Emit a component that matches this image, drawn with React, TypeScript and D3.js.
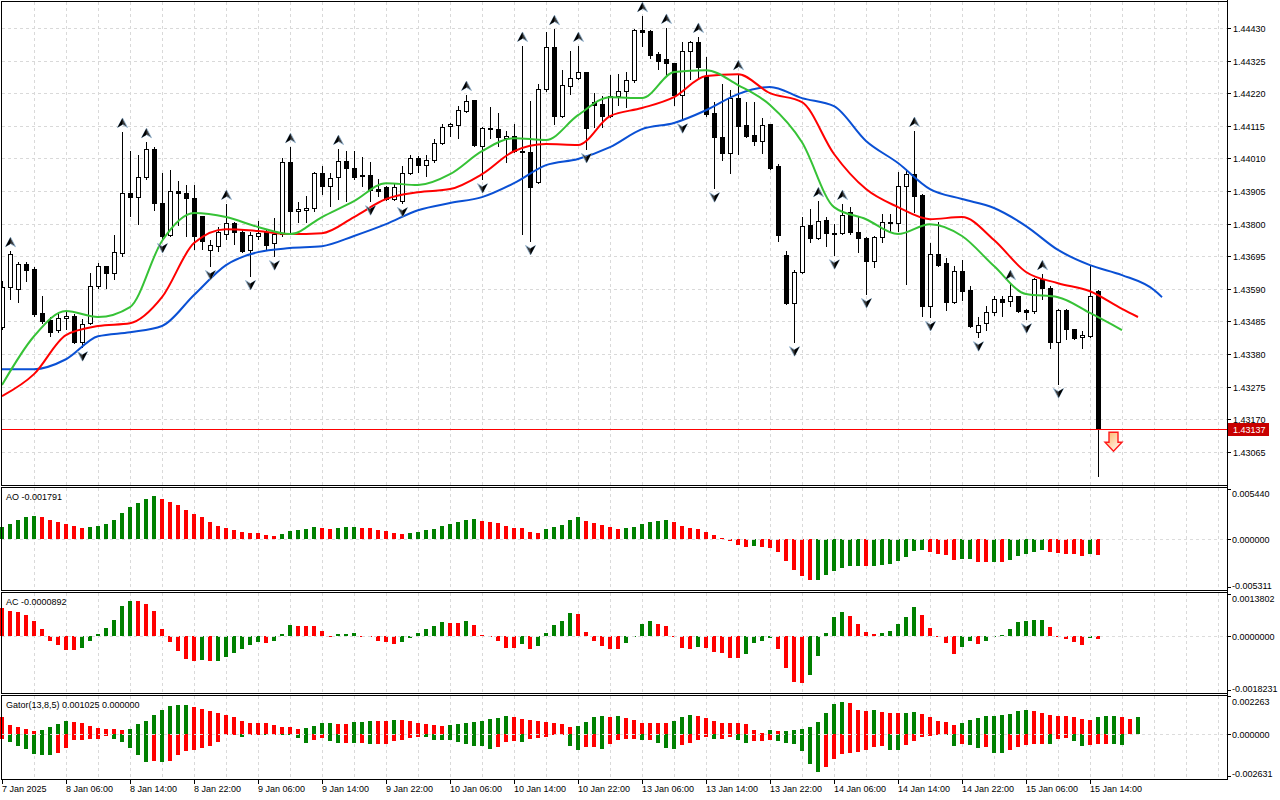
import { useEffect, useRef } from "react";
import * as d3 from "d3";

const W = 1280;
const H = 800;
const AXIS_X = 1227;
const FONT = "'Liberation Sans', Arial, sans-serif";
const GRID = "#d9d9d9";
const BAR_GREEN = "#008000";
const BAR_RED = "#ff0000";

// x axis, one label every 8 H1 bars starting at bar 0
const TIME_LABELS = [
  "7 Jan 2025", "8 Jan 06:00", "8 Jan 14:00", "8 Jan 22:00", "9 Jan 06:00", "9 Jan 14:00",
  "9 Jan 22:00", "10 Jan 06:00", "10 Jan 14:00", "10 Jan 22:00", "13 Jan 06:00", "13 Jan 14:00",
  "13 Jan 22:00", "14 Jan 06:00", "14 Jan 14:00", "14 Jan 22:00", "15 Jan 06:00", "15 Jan 14:00",
];

const PRICE_TICKS = [
  1.4443, 1.44325, 1.4422, 1.44115, 1.4401, 1.43905, 1.438, 1.43695, 1.4359, 1.43485,
  1.4338, 1.43275, 1.4317, 1.43065,
];

const OPEN = [
  1.43467, 1.43595, 1.43589, 1.43669, 1.43653, 1.43512, 1.43489, 1.43457, 1.43495, 1.43502,
  1.43418, 1.43479, 1.43599, 1.43663, 1.4364, 1.43705, 1.43898, 1.43885, 1.4395, 1.4404,
  1.43866, 1.43763, 1.43905, 1.43898, 1.43882, 1.43824, 1.43715, 1.43727, 1.43766, 1.43801,
  1.43772, 1.43715, 1.4376, 1.43772, 1.43737, 1.43766, 1.43998, 1.4384, 1.43843, 1.4385,
  1.43963, 1.43921, 1.4395, 1.44001, 1.43979, 1.43956, 1.43956, 1.43911, 1.43917, 1.43879,
  1.43872, 1.43963, 1.44011, 1.43988, 1.44004, 1.44059, 1.44114, 1.44117, 1.44162, 1.44198,
  1.4405, 1.44107, 1.44104, 1.44075, 1.44082, 1.44033, 1.4403, 1.43934, 1.44233, 1.44368,
  1.44146, 1.44243, 1.44269, 1.44288, 1.44191, 1.44185, 1.44146, 1.44211, 1.44227, 1.44262,
  1.44423, 1.4442, 1.44346, 1.4433, 1.44317, 1.44214, 1.44356, 1.44385, 1.44275, 1.44156,
  1.44078, 1.44027, 1.44204, 1.44117, 1.44085, 1.44066, 1.4412, 1.43985, 1.43698, 1.43544,
  1.43644, 1.43795, 1.43753, 1.43811, 1.43769, 1.43769, 1.43837, 1.43772, 1.43753, 1.43679,
  1.43756, 1.43805, 1.43801, 1.43921, 1.43959, 1.43892, 1.43534, 1.43702, 1.43673, 1.43547,
  1.43647, 1.43586, 1.4345, 1.43479, 1.43515, 1.43557, 1.4355, 1.43566, 1.43521, 1.43518,
  1.43621, 1.43592, 1.43418, 1.43521, 1.4346, 1.43434, 1.43437, 1.43582,
];
const HIGH = [
  1.43615, 1.43711, 1.43676, 1.43676, 1.4366, 1.43566, 1.43499, 1.43515, 1.43515, 1.43508,
  1.43492, 1.4364, 1.43673, 1.43663, 1.43763, 1.44095, 1.44033, 1.4402, 1.44062, 1.44046,
  1.43963, 1.43972, 1.43937, 1.43924, 1.43924, 1.43824, 1.43747, 1.43789, 1.43863, 1.43805,
  1.43779, 1.43772, 1.43808, 1.43779, 1.43818, 1.44011, 1.44046, 1.43869, 1.43888, 1.43966,
  1.43985, 1.43963, 1.4404, 1.44033, 1.44033, 1.44014, 1.43998, 1.43943, 1.43921, 1.43927,
  1.43985, 1.4402, 1.44017, 1.4402, 1.44072, 1.4412, 1.44124, 1.44178, 1.44214, 1.44198,
  1.44111, 1.44175, 1.44156, 1.44098, 1.4412, 1.44372, 1.44194, 1.44249, 1.44417, 1.44426,
  1.44294, 1.44356, 1.44372, 1.44288, 1.4422, 1.44211, 1.44278, 1.44281, 1.44288, 1.44426,
  1.44468, 1.44423, 1.44352, 1.4443, 1.44317, 1.44385, 1.44388, 1.44401, 1.44336, 1.44191,
  1.44249, 1.4423, 1.44281, 1.44191, 1.44191, 1.4414, 1.4412, 1.43992, 1.43711, 1.4365,
  1.43821, 1.43847, 1.43872, 1.43821, 1.43798, 1.43863, 1.43853, 1.43821, 1.43756, 1.4376,
  1.4383, 1.4383, 1.43966, 1.43975, 1.44098, 1.43895, 1.43737, 1.43805, 1.43689, 1.43663,
  1.43682, 1.43599, 1.43499, 1.43534, 1.43566, 1.43566, 1.43605, 1.43566, 1.43525, 1.43624,
  1.43637, 1.43599, 1.43525, 1.43525, 1.4346, 1.43454, 1.43666, 1.43586,
];
const LOW = [
  1.4346, 1.43557, 1.43547, 1.43615, 1.43502, 1.43479, 1.43437, 1.4345, 1.4346, 1.43415,
  1.43402, 1.43476, 1.43592, 1.43592, 1.43621, 1.43695, 1.43824, 1.43798, 1.43943, 1.43843,
  1.4375, 1.4376, 1.43795, 1.4376, 1.43718, 1.43718, 1.43663, 1.43711, 1.4375, 1.43734,
  1.43708, 1.43631, 1.4375, 1.43718, 1.43695, 1.4376, 1.43772, 1.43805, 1.43805, 1.4384,
  1.43895, 1.43856, 1.43879, 1.43872, 1.43943, 1.43921, 1.43872, 1.43888, 1.43876, 1.43876,
  1.43866, 1.43959, 1.43966, 1.43953, 1.43998, 1.44056, 1.44082, 1.44075, 1.44159, 1.4405,
  1.43943, 1.44075, 1.4405, 1.43998, 1.4403, 1.43766, 1.43744, 1.4393, 1.44227, 1.4412,
  1.44143, 1.44217, 1.44265, 1.4404, 1.44111, 1.44111, 1.44143, 1.44182, 1.44175, 1.44256,
  1.44372, 1.44333, 1.44298, 1.44278, 1.44182, 1.44136, 1.44265, 1.44265, 1.44146, 1.43914,
  1.44004, 1.43963, 1.44024, 1.44078, 1.44053, 1.44027, 1.43975, 1.43744, 1.43541, 1.43418,
  1.4364, 1.4374, 1.4375, 1.43727, 1.43698, 1.43766, 1.43766, 1.43708, 1.43573, 1.4366,
  1.4374, 1.43772, 1.43776, 1.43605, 1.43837, 1.43502, 1.43499, 1.43663, 1.43521, 1.43544,
  1.43553, 1.43467, 1.43434, 1.43457, 1.43505, 1.43502, 1.43534, 1.43515, 1.43492, 1.43512,
  1.43557, 1.43399, 1.43283, 1.43428, 1.43428, 1.43399, 1.43434, 1.42987,
];
const CLOSE = [
  1.43595, 1.43702, 1.43669, 1.4365, 1.43508, 1.43486, 1.4345, 1.43495, 1.43502, 1.43418,
  1.43476, 1.43599, 1.43663, 1.4364, 1.43708, 1.43898, 1.43885, 1.4395, 1.4404, 1.43866,
  1.4376, 1.43905, 1.43898, 1.43882, 1.4376, 1.43744, 1.43731, 1.43772, 1.43801, 1.43772,
  1.43711, 1.43763, 1.43769, 1.43731, 1.43766, 1.43998, 1.4384, 1.43847, 1.4385, 1.43963,
  1.43921, 1.43946, 1.44001, 1.43979, 1.4395, 1.43953, 1.43908, 1.43905, 1.43879, 1.43917,
  1.43963, 1.44011, 1.43988, 1.44004, 1.44059, 1.44111, 1.4412, 1.44165, 1.44194, 1.44053,
  1.44107, 1.44104, 1.44078, 1.44082, 1.44033, 1.4403, 1.43917, 1.44233, 1.44368, 1.44146,
  1.44246, 1.44269, 1.44288, 1.44107, 1.44182, 1.44146, 1.44211, 1.44227, 1.44262, 1.44423,
  1.44417, 1.44343, 1.44323, 1.44317, 1.44214, 1.44356, 1.44385, 1.44304, 1.44153, 1.44078,
  1.44027, 1.44204, 1.44114, 1.44082, 1.44066, 1.44117, 1.43979, 1.43763, 1.43544, 1.43644,
  1.43792, 1.43753, 1.43808, 1.43769, 1.43766, 1.43827, 1.43772, 1.43753, 1.43679, 1.43756,
  1.43805, 1.43801, 1.43921, 1.43959, 1.43888, 1.43534, 1.43702, 1.43666, 1.43547, 1.43647,
  1.43582, 1.4347, 1.43473, 1.43515, 1.43557, 1.43547, 1.43566, 1.43518, 1.43515, 1.43621,
  1.43592, 1.43418, 1.43521, 1.4346, 1.43431, 1.43441, 1.43566, 1.43137,
];

// bar indices carrying a fractal arrow
const FRACTAL_UP = [1, 15, 18, 28, 36, 42, 58, 65, 69, 72, 80, 83, 87, 92, 102, 105, 114, 126, 130];
const FRACTAL_DOWN = [10, 20, 26, 31, 34, 46, 50, 60, 66, 73, 85, 89, 99, 104, 108, 116, 122, 128, 132];

// Alligator lines, one value every 4 bars (shifted lines run past the last candle)
const LIPS = [
  1.4328, 1.43437, 1.43518, 1.43499, 1.43531, 1.43744, 1.43834, 1.43821, 1.43789, 1.43766,
  1.43821, 1.43872, 1.4393, 1.43924, 1.43959, 1.44033, 1.44075, 1.44069, 1.44149, 1.44207,
  1.44204, 1.44288, 1.44294, 1.44246, 1.44182, 1.44062, 1.43853, 1.43814, 1.43766, 1.43798,
  1.4376, 1.43663, 1.43573, 1.43563, 1.43512, 1.43457,
];
const TEETH = [
  1.43244, 1.43315, 1.43441, 1.4347, 1.43479, 1.43563, 1.43737, 1.43782, 1.43776, 1.43766,
  1.43769, 1.43821, 1.43879, 1.43901, 1.43911, 1.43959, 1.44033, 1.44056, 1.44053, 1.44146,
  1.44172, 1.44207, 1.44275, 1.44281, 1.4422, 1.44191, 1.44024, 1.43911, 1.43853, 1.43814,
  1.43821, 1.43747, 1.43644, 1.43608, 1.43582, 1.43525, 1.43499,
];
const JAW = [
  1.43331, 1.43331, 1.43363, 1.43437, 1.4345, 1.4347, 1.4357, 1.43666, 1.43708, 1.43721,
  1.43727, 1.4376, 1.43798, 1.43843, 1.43866, 1.43885, 1.4393, 1.43988, 1.44008, 1.44046,
  1.44104, 1.44124, 1.44165, 1.44217, 1.4424, 1.44204, 1.44178, 1.44066, 1.43995, 1.43911,
  1.43879, 1.4385, 1.43792, 1.43715, 1.43666, 1.43634, 1.43586, 1.43563,
];
const LIPS_END = 140;
const TEETH_END = 142;
const JAW_END = 145;

const AO = [
  0.00127, 0.00163, 0.0021, 0.00236, 0.0025, 0.00239, 0.0021, 0.00185, 0.00163, 0.00141,
  0.00119, 0.0013, 0.00145, 0.00163, 0.00206, 0.00286, 0.00348, 0.00391, 0.00434, 0.00467,
  0.00434, 0.00405, 0.00369, 0.00315, 0.00275, 0.00239, 0.00185, 0.00141, 0.00119, 0.00098,
  0.00076, 0.00068, 0.00065, 0.00043, 0.00033, 0.00054, 0.00087, 0.00101, 0.00105, 0.0013,
  0.00123, 0.00109, 0.00119, 0.00128, 0.0013, 0.00119, 0.00116, 0.00101, 0.0009, 0.00068,
  0.00058, 0.00068, 0.0008, 0.00101, 0.00112, 0.00145, 0.00166, 0.00188, 0.0021, 0.00221,
  0.00196, 0.00185, 0.00174, 0.00141, 0.00123, 0.00119, 0.00076, 0.00065, 0.00112, 0.0013,
  0.00152, 0.00206, 0.00239, 0.00199, 0.00174, 0.00155, 0.00134, 0.00112, 0.00113, 0.00134,
  0.00163, 0.00188, 0.00199, 0.0021, 0.00188, 0.00145, 0.00123, 0.00112, 0.00076, 0.00043,
  0.00014, -0.00022, -0.00072, -0.00094, -0.00083, -0.00094, -0.00096, -0.00148, -0.00246, -0.00344,
  -0.00409, -0.00452, -0.0045, -0.00398, -0.00355, -0.00319, -0.003, -0.00298, -0.00301, -0.00297,
  -0.0029, -0.00279, -0.00246, -0.00203, -0.00138, -0.00127, -0.00148, -0.00163, -0.00181, -0.00235,
  -0.00225, -0.00224, -0.00257, -0.00258, -0.00256, -0.00257, -0.00235, -0.00192, -0.0017, -0.00148,
  -0.00127, -0.00148, -0.00159, -0.0016, -0.0017, -0.00192, -0.0017, -0.001791,
];
const AO_COLORS =
  "gggggrrrrr rggggggggg rrrrrrrrrr rrrrrggggg rrgggrrrrr rggggggggg rrrrrrrrgg " +
  "gggrrrrrgg ggggrrrrrr rrrrgrrrrr rrggggggrg ggggggrrrr ggrrgrgggg grrrrrgr";

const AC = [
  0.000914, 0.000825, 0.000792, 0.000693, 0.000495, 0.000231, -0.000155, -0.00032, -0.000462, -0.000465,
  -0.000418, -0.000155, 0.000066, 0.000264, 0.000528, 0.00099, 0.001155, 0.00115, 0.001056, 0.000825,
  0.000231, -0.000221, -0.000517, -0.000781, -0.000847, -0.000814, -0.00085, -0.000845, -0.000715, -0.000583,
  -0.000451, -0.00032, -0.000221, -0.000253, -0.000187, 0.000066, 0.000363, 0.00033, 0.000328, 0.000326,
  0.000165, -0.000033, 0.000066, 0.000068, 0.000099, -0.000033, -0.000055, -0.000155, -0.000221, -0.000286,
  -0.000221, -0.000088, 0.000099, 0.000231, 0.00033, 0.000462, 0.000429, 0.000427, 0.000495, 0.000363,
  0.00002, -0.000044, -0.000187, -0.000418, -0.00042, -0.000286, -0.000451, -0.000352, 0.000099, 0.000363,
  0.000495, 0.000759, 0.000726, 0.000132, -0.000155, -0.000352, -0.000451, -0.000453, -0.000253, 0.00001,
  0.000396, 0.000495, 0.000396, 0.00033, -0.000055, -0.000418, -0.000451, -0.000385, -0.000418, -0.00055,
  -0.000583, -0.000748, -0.00075, -0.000616, -0.000253, -0.000155, -0.000088, -0.000451, -0.001078, -0.00154,
  -0.001573, -0.001309, -0.000682, 0.00011, 0.000627, 0.000792, 0.00066, 0.000396, 0.000132, 0.000066,
  0.000099, 0.000165, 0.000396, 0.000627, 0.000957, 0.000693, 0.000264, -0.00002, -0.000253, -0.000616,
  -0.000385, -0.000155, -0.000286, -0.000187, -0.000044, 0.00002, 0.000231, 0.000462, 0.000495, 0.000528,
  0.00053, 0.000297, -0.00002, -0.000121, -0.000221, -0.00032, -0.000066, -0.0000892,
];
const AC_COLORS =
  "rrrrrrrrrr gggggggrrr rrrrrgrggg gggrgggrrr rrgggrrrrr ggggggrrgr rrrrrgrggg " +
  "ggrrrrrrgg ggrrrrrgrr rrrggggrrr rgggggrrrr gggggrrrrr ggrggggggg grrrrrgr";

const GATOR_UP = [
  0.001, 0.00055, 0.00043, 0.00031, 0.00018, 0.0002, 0.00043, 0.00061, 0.0008, 0.00073,
  0.00067, 0.00049, 0.00037, 0.00031, 0.0003, 0.00024, 0.00031, 0.00061, 0.0008, 0.00116,
  0.00147, 0.00171, 0.00177, 0.00178, 0.00165, 0.00153, 0.00141, 0.00129, 0.00116, 0.00104,
  0.0008, 0.00067, 0.00066, 0.00065, 0.00055, 0.00043, 0.00042, 0.00031, 0.00037, 0.00049,
  0.00067, 0.00068, 0.00061, 0.0006, 0.00073, 0.00074, 0.0008, 0.00079, 0.00078, 0.00086,
  0.00085, 0.0008, 0.00067, 0.00061, 0.00055, 0.00049, 0.00055, 0.00061, 0.00067, 0.00073,
  0.0008, 0.00092, 0.00098, 0.0011, 0.00104, 0.00092, 0.00086, 0.0008, 0.00073, 0.00067,
  0.00061, 0.00043, 0.00044, 0.00073, 0.00104, 0.0011, 0.00104, 0.00111, 0.00098, 0.00086,
  0.00067, 0.00066, 0.00065, 0.00064, 0.0008, 0.00104, 0.00116, 0.0011, 0.00098, 0.0008,
  0.00067, 0.00066, 0.00065, 0.00061, 0.00024, 0.00006, 0.00024, 0.00018, 0.00019, 0.0002,
  0.00031, 0.00043, 0.00073, 0.00129, 0.00184, 0.00196, 0.0019, 0.00147, 0.00141, 0.00142,
  0.00135, 0.00129, 0.00128, 0.00129, 0.00135, 0.00122, 0.00104, 0.0008, 0.00073, 0.00055,
  0.00067, 0.00086, 0.00098, 0.0011, 0.00111, 0.00116, 0.00122, 0.00141, 0.00147, 0.00141,
  0.00129, 0.00116, 0.0011, 0.00109, 0.00104, 0.00092, 0.00086, 0.00104, 0.0011, 0.00111,
  0.00104, 0.00092, 0.001025,
];
const GATOR_UP_COLORS =
  "rrrrrggggr rrrrrrgggg ggggrrrrrr rrrrrrrrgg ggrrgggrrg rrrrrrgggg ggggrrrrrr " +
  "rrggggrgrr rrrrgggrrr rrrrrrgrgg ggggggrrrg rrrggrrrrr gggggggggr rrrrrrrggg rrg";

const GATOR_DOWN = [
  -0.00031, -0.00049, -0.00073, -0.00092, -0.00122, -0.00129, -0.0013, -0.00116, -0.00086, -0.00037,
  -0.00036, -0.00035, -0.00031, -0.00012, -0.00031, -0.00049, -0.00086, -0.00129, -0.00171, -0.00165,
  -0.00172, -0.00165, -0.00129, -0.00104, -0.00098, -0.00086, -0.00073, -0.00049, -0.00006, -0.00002,
  -0.00018, -0.00006, -0.00002, -0.00006, -0.00002, -0.00004, -0.00006, -0.00024, -0.00055, -0.00037,
  -0.00024, -0.00043, -0.00055, -0.00054, -0.00056, -0.00055, -0.00063, -0.00062, -0.00061, -0.00043,
  -0.00037, -0.00024, -0.00018, -0.00019, -0.00037, -0.00038, -0.00039, -0.00049, -0.00061, -0.00073,
  -0.00074, -0.00092, -0.0008, -0.00049, -0.00043, -0.00049, -0.00031, -0.00024, -0.00023, -0.00004,
  -0.00002, -0.00073, -0.00098, -0.0008, -0.00079, -0.00092, -0.00061, -0.00037, -0.00031, -0.0003,
  -0.00037, -0.00036, -0.00055, -0.00086, -0.00092, -0.00067, -0.00055, -0.00037, -0.00018, -0.00031,
  -0.0003, -0.00018, -0.00037, -0.00055, -0.00045, -0.00043, -0.00037, -0.00043, -0.00055, -0.00061,
  -0.00104, -0.00184, -0.00233, -0.00202, -0.00153, -0.00122, -0.00116, -0.00115, -0.00098, -0.0008,
  -0.00073, -0.00098, -0.00099, -0.00067, -0.00043, -0.00018, -0.00017, -0.00001, -0.0001, -0.00073,
  -0.00061, -0.00067, -0.00086, -0.0008, -0.00116, -0.00117, -0.00098, -0.0008, -0.00067, -0.00066,
  -0.00061, -0.00062, -0.00031, -0.00024, -0.00043, -0.00073, -0.00067, -0.00061, -0.0006, -0.00061,
  -0.00067,
];
const GATOR_DOWN_COLORS =
  "rggggggrrr rrrrgggggr grrrrrrrrr grrgrggggr rggrgrgrrr rrrggggggg ggrrrgrrrr " +
  "rggrrgrrrr grgggrrrrg rrggrrrggg gggrrrrrrr rggrrrrrgg rggrggrrrr rgrrggrrrg g";

const LAST_PRICE = 1.43137;
const SIGNAL_BAR = 139;
const SIGNAL_PRICE = 1.43128;

const PANELS = [
  { title: "AO -0.001791", top: 487, bottom: 590, min: -0.005311, max: 0.00544, yMin: 587.5, yMax: 489,
    labels: ["0.005440", "0.000000", "-0.005311"], labelY: [493, 539, 585] },
  { title: "AC -0.0000892", top: 592, bottom: 693, min: -0.0018231, max: 0.0013802, yMin: 690.7, yMax: 594.3,
    labels: ["0.0013802", "0.0000000", "-0.0018231"], labelY: [598, 636, 688] },
  { title: "Gator(13,8,5) 0.001025 0.000000", top: 695, bottom: 779, min: -0.002631, max: 0.002263, yMin: 776.7, yMax: 696.7,
    labels: ["0.002263", "0.000000", "-0.002631"], labelY: [701, 734, 773] },
];

const flags = (s: string) => s.replace(/\s/g, "");

export default function App() {
  const svgRef = useRef<SVGSVGElement>(null);

  useEffect(() => {
    document.body.style.margin = "0";
    if (!svgRef.current) return;
    const svg = d3.select(svgRef.current);
    svg.selectAll("*").remove();

    const x = d3.scaleLinear().domain([0, 137]).range([2, 1098]);
    const px = (i: number) => Math.round(x(i));
    const y = d3.scaleLinear().domain([1.42958, 1.4452]).range([485, 0]);

    svg.append("rect").attr("width", W).attr("height", H).attr("fill", "#fff");

    const defs = svg.append("defs");
    defs.append("clipPath").attr("id", "main-clip")
      .append("rect").attr("x", 2).attr("y", 2).attr("width", AXIS_X - 2).attr("height", 483);
    const grad = defs.append("linearGradient").attr("id", "sig-grad")
      .attr("x1", "0").attr("y1", "0").attr("x2", "1").attr("y2", "1");
    grad.append("stop").attr("offset", "0%").attr("stop-color", "#ffb060");
    grad.append("stop").attr("offset", "100%").attr("stop-color", "#ffffff");

    // Grid
    const gridBars = d3.range(4, 153, 4);
    const grid = svg.append("g")
      .attr("stroke", GRID)
      .attr("stroke-dasharray", "3,3")
      .attr("shape-rendering", "crispEdges");
    const bands: [number, number][] = [[2, 485], [488, 590], [593, 693], [696, 779]];
    bands.forEach(([t, b]) => {
      grid.append("g").selectAll("line").data(gridBars).join("line")
        .attr("x1", (d) => px(d) + 0.5).attr("x2", (d) => px(d) + 0.5)
        .attr("y1", t).attr("y2", b);
    });
    grid.append("g").selectAll("line").data(PRICE_TICKS).join("line")
      .attr("x1", 2).attr("x2", AXIS_X)
      .attr("y1", (d) => Math.round(y(d)) + 0.5).attr("y2", (d) => Math.round(y(d)) + 0.5);

    // Candles
    const candles = OPEN.map((o, i) => ({ i, o, h: HIGH[i], l: LOW[i], c: CLOSE[i] }));
    const main = svg.append("g").attr("clip-path", "url(#main-clip)");
    const cg = main.append("g").attr("shape-rendering", "crispEdges");
    cg.selectAll("line.wick").data(candles).join("line")
      .attr("class", "wick")
      .attr("x1", (d) => px(d.i) + 0.5).attr("x2", (d) => px(d.i) + 0.5)
      .attr("y1", (d) => Math.round(y(d.h))).attr("y2", (d) => Math.round(y(d.l)) + 1)
      .attr("stroke", "#000");
    cg.selectAll("rect.body").data(candles).join("rect")
      .attr("class", "body")
      .attr("x", (d) => px(d.i) - 1.5)
      .attr("y", (d) => Math.round(y(Math.max(d.o, d.c))) + 0.5)
      .attr("width", 4)
      .attr("height", (d) =>
        Math.max(1, Math.round(y(Math.min(d.o, d.c))) - Math.round(y(Math.max(d.o, d.c)))))
      .attr("fill", (d) => (d.c > d.o ? "#fff" : "#000"))
      .attr("stroke", "#000");

    // Current price line
    const lp = Math.round(y(LAST_PRICE)) + 0.5;
    svg.append("line")
      .attr("x1", 2).attr("x2", AXIS_X).attr("y1", lp).attr("y2", lp)
      .attr("stroke", "#ff0000").attr("stroke-width", 1).attr("shape-rendering", "crispEdges");

    // Alligator
    const linePts = (vals: number[], end: number) =>
      vals.map((v, k) => [Math.min(k * 4, end), v] as [number, number]);
    const lineGen = d3.line<[number, number]>()
      .x((d) => x(d[0]))
      .y((d) => y(d[1]))
      .curve(d3.curveMonotoneX);
    const series: [number[], number, string][] = [
      [JAW, JAW_END, "#0a50d4"],
      [TEETH, TEETH_END, "#ff0000"],
      [LIPS, LIPS_END, "#36c236"],
    ];
    series.forEach(([vals, end, color]) => {
      main.append("path")
        .datum(linePts(vals, end))
        .attr("d", lineGen)
        .attr("fill", "none")
        .attr("stroke", color)
        .attr("stroke-width", 2);
    });

    // Fractals: two-tone arrowheads
    const drawFractal = (idx: number[], up: boolean) => {
      const s = up ? 1 : -1;
      const g = main.append("g").selectAll("g").data(idx).join("g")
        .attr("transform", (i) =>
          `translate(${px(i) + 0.5},${up ? y(HIGH[i]) - 9 : y(LOW[i]) + 9})`);
      g.append("path")
        .attr("d", `M0,${-5 * s}L5,${4.5 * s}L0,${1.5 * s}L-5,${4.5 * s}Z`)
        .attr("fill", "#3a3a3a").attr("stroke", "#8fb3d0").attr("stroke-width", 0.8)
        .attr("stroke-linejoin", "round");
      g.append("path")
        .attr("d", up
          ? `M0,-5L-5,4.5L0,1.5Z`
          : `M0,5L5,-4.5L0,-1.5Z`)
        .attr("fill", "#000");
    };
    drawFractal(FRACTAL_UP, true);
    drawFractal(FRACTAL_DOWN, false);

    // Signal arrow
    svg.append("path")
      .attr("d", "M-4.5,0H4.5V10H8.5L0,19L-8.5,10H-4.5Z")
      .attr("transform", `translate(${px(SIGNAL_BAR) - 0.5},${y(SIGNAL_PRICE)})`)
      .attr("fill", "url(#sig-grad)")
      .attr("stroke", "#ff1a1a")
      .attr("stroke-width", 1.4);

    // Indicator histograms
    const scales = PANELS.map((p) =>
      d3.scaleLinear().domain([p.min, p.max]).range([p.yMin, p.yMax]));
    const hist = (vals: number[], cols: string, s: d3.ScaleLinear<number, number>) => {
      const c = flags(cols);
      const z = Math.round(s(0));
      svg.append("g").attr("shape-rendering", "crispEdges")
        .selectAll("rect").data(vals).join("rect")
        .attr("x", (_, i) => px(i) - 2)
        .attr("width", 4)
        .attr("y", (v) => (v >= 0 ? Math.round(s(v)) : z))
        .attr("height", (v) => Math.max(1, Math.abs(Math.round(s(v)) - z)))
        .attr("fill", (_, i) => (c[i] === "g" ? BAR_GREEN : BAR_RED));
    };
    hist(AO, AO_COLORS, scales[0]);
    hist(AC, AC_COLORS, scales[1]);
    hist(GATOR_UP, GATOR_UP_COLORS, scales[2]);
    hist(GATOR_DOWN, GATOR_DOWN_COLORS, scales[2]);

    // zero levels
    scales.forEach((s) => {
      const z = Math.round(s(0)) + 0.5;
      svg.append("line")
        .attr("x1", 2).attr("x2", AXIS_X).attr("y1", z).attr("y2", z)
        .attr("stroke", "#dcdcdc").attr("stroke-dasharray", "3,3")
        .attr("shape-rendering", "crispEdges");
    });

    // Frames
    const frames = svg.append("g")
      .attr("fill", "none").attr("stroke", "#000").attr("shape-rendering", "crispEdges");
    frames.append("rect").attr("x", 1.5).attr("y", 1.5).attr("width", AXIS_X - 1.5).attr("height", 484);
    PANELS.forEach((p) => {
      frames.append("rect").attr("x", 1.5).attr("y", p.top + 0.5)
        .attr("width", AXIS_X - 1.5).attr("height", p.bottom - p.top);
    });
    frames.append("line").attr("x1", AXIS_X + 0.5).attr("x2", AXIS_X + 0.5).attr("y1", 0).attr("y2", 780);

    const text = svg.append("g")
      .attr("font-family", FONT).attr("font-size", 9).attr("fill", "#000");

    // Price axis
    PRICE_TICKS.forEach((t) => {
      const ty = Math.round(y(t)) + 0.5;
      frames.append("line").attr("x1", AXIS_X).attr("x2", AXIS_X + 4).attr("y1", ty).attr("y2", ty);
      text.append("text").attr("x", AXIS_X + 6).attr("y", ty + 3.5).text(d3.format(".5f")(t));
    });
    svg.append("rect")
      .attr("x", AXIS_X + 1).attr("y", lp - 6.5).attr("width", 41).attr("height", 13)
      .attr("fill", "#c80000");
    svg.append("text")
      .attr("x", AXIS_X + 6).attr("y", lp + 3.5)
      .attr("font-family", FONT).attr("font-size", 9).attr("fill", "#fff")
      .text(d3.format(".5f")(LAST_PRICE));

    // Indicator axes and titles
    PANELS.forEach((p, k) => {
      const s = scales[k];
      [p.yMax, Math.round(s(0)) + 0.5, p.yMin].forEach((ty) => {
        frames.append("line").attr("x1", AXIS_X).attr("x2", AXIS_X + 4).attr("y1", ty).attr("y2", ty);
      });
      p.labels.forEach((lab, j) => {
        text.append("text").attr("x", AXIS_X + 5).attr("y", p.labelY[j] + 3.5).text(lab);
      });
      text.append("text").attr("x", 6).attr("y", p.top + 13).text(p.title);
    });

    // Time axis
    TIME_LABELS.forEach((lab, k) => {
      const tx = px(k * 8) + 0.5;
      frames.append("line").attr("x1", tx).attr("x2", tx).attr("y1", 779).attr("y2", 784);
      text.append("text").attr("x", px(k * 8)).attr("y", 792).text(lab);
    });
  }, []);

  return (
    <div style={{ position: "absolute", left: 0, top: 0, width: W, height: H }}>
      <svg ref={svgRef} width={W} height={H} style={{ display: "block" }} />
    </div>
  );
}
